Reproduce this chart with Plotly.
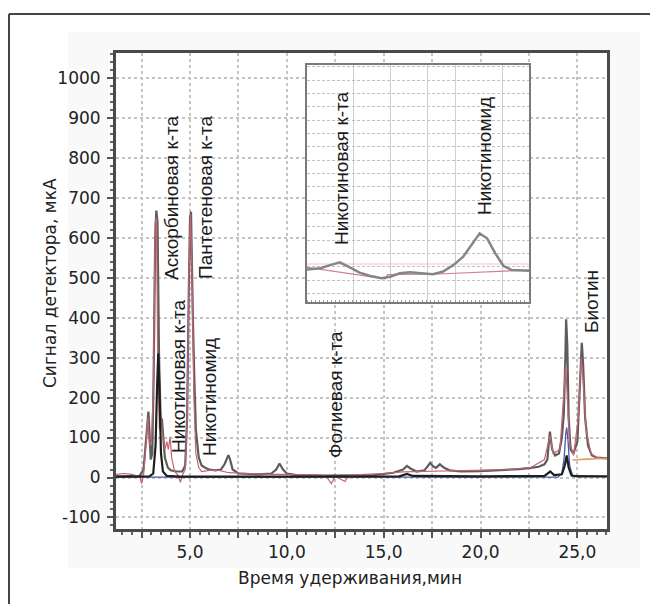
import plotly.graph_objects as go

# ---------------- data ----------------
x_tick_vals = [2.5, 5.0, 7.5, 10.0, 12.5, 15.0, 17.5, 20.0, 22.5, 25.0]
x_tick_text = ["", "5,0", "", "10,0", "", "15,0", "", "20,0", "", "25,0"]
y_tick_vals = [-100, 0, 100, 200, 300, 400, 500, 600, 700, 800, 900, 1000]
y_tick_text = ["-100", "0", "100", "200", "300", "400", "500", "600", "700", "800", "900", "1000"]

# main chromatograms: (time, min ; signal, mkA)
gray_pts = [(1.18, 2), (2.0, 3), (2.4, 4), (2.6, 20), (2.72, 100), (2.8, 150), (2.85, 165), (2.9, 120),
            (2.97, 45), (3.05, 60), (3.12, 250), (3.2, 600), (3.26, 668), (3.32, 640), (3.4, 300),
            (3.48, 150), (3.55, 145), (3.62, 100), (3.7, 50), (3.85, 25), (4.0, 18), (4.3, 15), (4.6, 15),
            (4.75, 30), (4.85, 150), (4.93, 450), (5.0, 650), (5.05, 665), (5.1, 500), (5.15, 390),
            (5.22, 250), (5.3, 120), (5.45, 50), (5.6, 30), (5.8, 24), (6.0, 20), (6.3, 18), (6.6, 20),
            (6.8, 35), (6.92, 52), (6.98, 56), (7.05, 48), (7.2, 20), (7.5, 10), (8.5, 8), (9.2, 10),
            (9.45, 20), (9.62, 35), (9.8, 20), (10.0, 10), (10.5, 6), (12.0, 5), (13.5, 5), (14.5, 6),
            (15.5, 12), (16.0, 20), (16.2, 29), (16.4, 22), (16.7, 15), (17.1, 18), (17.3, 30), (17.4, 37),
            (17.55, 28), (17.7, 24), (17.9, 33), (18.1, 25), (18.4, 18), (19.0, 15), (20.0, 16), (21.0, 18),
            (22.0, 21), (22.6, 24), (23.0, 27), (23.3, 33), (23.45, 45), (23.58, 115), (23.7, 70),
            (23.85, 55), (24.05, 60), (24.2, 100), (24.3, 160), (24.38, 300), (24.42, 396), (24.48, 330),
            (24.55, 150), (24.65, 70), (24.8, 60), (25.0, 90), (25.1, 200), (25.18, 320), (25.23, 337),
            (25.3, 280), (25.4, 150), (25.55, 80), (25.75, 55), (26.0, 50), (26.53, 48)]

pink_pts = [(1.18, 8), (1.6, 10), (2.0, 8), (2.4, 2), (2.5, -15), (2.6, 5), (2.75, 100), (2.82, 150),
            (2.9, 80), (3.0, 90), (3.1, 200), (3.2, 640), (3.27, 650), (3.33, 300), (3.42, 120),
            (3.5, 150), (3.58, 110), (3.7, 70), (3.8, 90), (3.88, 70), (3.97, 102), (4.05, 50), (4.2, 15),
            (4.4, 5), (4.5, -12), (4.6, 5), (4.75, 20), (4.85, 150), (4.95, 520), (5.02, 660), (5.08, 560),
            (5.13, 385), (5.2, 200), (5.3, 60), (5.45, 25), (5.6, 15), (6.0, 18), (6.5, 18), (7.0, 12),
            (8.0, 10), (9.0, 8), (10.0, 8), (11.0, 6), (12.0, 5), (12.3, -15), (12.5, 3), (13.0, -10),
            (13.2, 5), (14.0, 8), (15.0, 10), (16.0, 14), (17.0, 15), (18.5, 16), (20.0, 17), (21.5, 20),
            (22.6, 25), (23.3, 45), (23.58, 105), (23.75, 60), (24.1, 70), (24.3, 200), (24.4, 280),
            (24.48, 200), (24.6, 90), (24.8, 55), (25.05, 150), (25.2, 300), (25.3, 240), (25.45, 120),
            (25.7, 60), (26.0, 50), (26.53, 48)]

blue_pts = [(1.18, 1), (24.0, 1), (24.2, 10), (24.32, 50), (24.4, 110), (24.45, 125), (24.52, 90),
            (24.6, 30), (24.75, 5), (26.53, 2)]

orange_pts = [(24.75, 44), (25.0, 45), (25.5, 46), (26.0, 47), (26.53, 47)]

black_pts = [(1.18, 2), (2.5, 2), (2.9, 3), (3.1, 10), (3.22, 80), (3.3, 230), (3.36, 310), (3.42, 220),
             (3.5, 60), (3.6, 15), (3.8, 4), (4.5, 2), (5.5, 3), (6.0, 2), (10.0, 2), (15.8, 3), (16.2, 9),
             (16.5, 4), (20.0, 3), (23.3, 4), (23.6, 15), (23.8, 6), (24.2, 8), (24.35, 30), (24.45, 55),
             (24.55, 25), (24.7, 5), (25.0, 3), (26.53, 3)]

# inset (zoomed region around nicotinic acid / nicotinamide)
inset_gray_pts = [(3.80, 1.79), (3.84, 1.80), (3.96, 1.88), (4.08, 2.12), (4.20, 2.33), (4.32, 1.95),
                  (4.44, 1.55), (4.57, 1.30), (4.71, 1.13), (4.81, 1.25), (4.93, 1.50), (5.05, 1.58),
                  (5.17, 1.50), (5.33, 1.43), (5.45, 1.62), (5.58, 2.12), (5.70, 2.75), (5.80, 3.62),
                  (5.90, 4.50), (5.99, 4.13), (6.09, 3.00), (6.19, 2.05), (6.29, 1.75), (6.50, 1.70)]
inset_pink_pts = [(3.80, 1.95), (4.20, 1.60), (4.60, 1.20), (4.75, 1.08), (4.78, 1.40), (5.40, 1.45),
                  (6.50, 1.75)]
inset_pink_top_pts = [(3.80, 2.2), (6.50, 2.2)]
inset_grid_x = [4.36, 4.81, 5.27, 5.60, 6.18]

# labels: (text, x px centre, y px centre)
main_labels = [("Аскорбиновая к-та", 171, 198), ("Пантетеновая к-та", 205, 198),
               ("Никотиновая к-та", 178, 376), ("Никотиномид", 209, 397),
               ("Фолиевая к-та", 335, 395), ("Биотин", 591, 302),
               ("Никотиновая к-та", 341, 168), ("Никотиномид", 484, 156)]

# ---------------- layout helpers ----------------
W, H = 650, 604
L, R, T, B = 116, 607, 53, 529


def fx(p):
    return (p - L) / (R - L)


def fy(p):
    return (B - p) / (B - T)


def unzip(pts):
    return [p[0] for p in pts], [p[1] for p in pts]


fig = go.Figure()


def add(pts, color, width, xa="x", ya="y"):
    xs, ys = unzip(pts)
    fig.add_trace(go.Scatter(x=xs, y=ys, mode="lines", line=dict(color=color, width=width),
                             xaxis=xa, yaxis=ya, hoverinfo="skip", showlegend=False))


add(gray_pts, "#5c5c5c", 2.2)
add(pink_pts, "#c26573", 1.2)
add(blue_pts, "#4a5aa8", 1.3)
add(orange_pts, "#d9a266", 1.6)
add(black_pts, "#1e1e1e", 2.2)

add(inset_pink_top_pts, "rgba(220,160,170,0.6)", 1, "x2", "y2")
add(inset_pink_pts, "#d08090", 1.2, "x2", "y2")
add(inset_gray_pts, "#858585", 2.5, "x2", "y2")

tick_font = dict(family="DejaVu Sans", size=17, color="#222")

fig.update_layout(
    width=W, height=H,
    margin=dict(l=L, r=W - R, t=T, b=H - B, pad=0),
    paper_bgcolor="white", plot_bgcolor="white",
    showlegend=False,
    xaxis=dict(range=[1.177, 26.53], tickvals=x_tick_vals, ticktext=x_tick_text,
               ticks="outside", ticklen=6, tickwidth=2, tickcolor="#555",
               minor=dict(dtick=0.5, ticks="outside", ticklen=3, tickwidth=1.5, tickcolor="#666", showgrid=False),
               showgrid=True, gridcolor="#c4c4c4", griddash="dot", gridwidth=1.5,
               showline=True, mirror=True, linecolor="#4a4a4a", linewidth=3,
               zeroline=False, tickfont=tick_font, domain=[0, 1]),
    yaxis=dict(range=[-128.8, 1062], tickvals=y_tick_vals, ticktext=y_tick_text,
               ticks="outside", ticklen=6, tickwidth=2, tickcolor="#555",
               minor=dict(dtick=20, ticks="outside", ticklen=3, tickwidth=1.5, tickcolor="#666", showgrid=False),
               showgrid=True, gridcolor="#c4c4c4", griddash="dot", gridwidth=1.5,
               showline=True, mirror=True, linecolor="#4a4a4a", linewidth=3,
               zeroline=False, tickfont=tick_font, domain=[0, 1], ticklabelstandoff=3),
    xaxis2=dict(domain=[fx(307), fx(529)], anchor="y2", range=[3.8, 6.5],
                tickvals=inset_grid_x, showticklabels=False, ticks="",
                minor=dict(dtick=0.05, ticks="inside", ticklen=2, tickcolor="#999", showgrid=False),
                showgrid=True, gridcolor="#cfcfcf", gridwidth=1,
                showline=True, mirror=True, linecolor="#7a7a7a", linewidth=2, zeroline=False),
    yaxis2=dict(domain=[fy(302), fy(65)], anchor="x2", range=[-0.65, 17.13], dtick=1,
                showticklabels=False, ticks="",
                showgrid=True, gridcolor="#c2c2c2", griddash="3px,2px", gridwidth=1,
                showline=True, mirror=True, linecolor="#7a7a7a", linewidth=2, zeroline=False),
)

shapes = [
    # faint grey background of the original figure
    dict(type="rect", xref="paper", yref="paper", x0=fx(68), x1=fx(640), y0=fy(568), y1=fy(32),
         fillcolor="#f9f9f9", line=dict(width=0), layer="below"),
    dict(type="rect", xref="paper", yref="paper", x0=0, x1=1, y0=0, y1=1,
         fillcolor="white", line=dict(width=0), layer="below"),
    # outer frame
    dict(type="line", xref="paper", yref="paper", x0=fx(9), x1=fx(660), y0=fy(14), y1=fy(14),
         line=dict(color="#444", width=2)),
    dict(type="line", xref="paper", yref="paper", x0=fx(9), x1=fx(9), y0=fy(14), y1=fy(620),
         line=dict(color="#444", width=2)),
]
fig.update_layout(shapes=shapes)

ann = []
for text, cx, cy in main_labels:
    ann.append(dict(text=text, x=fx(cx), y=fy(cy), xref="paper", yref="paper", showarrow=False,
                    textangle=-90, xanchor="center", yanchor="middle",
                    font=dict(family="Liberation Sans", size=19, color="#1a1a1a")))
ann.append(dict(text="Время удерживания,мин", x=fx(350), y=fy(578), xref="paper", yref="paper",
                showarrow=False, xanchor="center", yanchor="middle",
                font=dict(family="DejaVu Sans", size=17, color="#222")))
ann.append(dict(text="Сигнал детектора, мкА", x=fx(50), y=fy(283), xref="paper", yref="paper",
                showarrow=False, textangle=-90, xanchor="center", yanchor="middle",
                font=dict(family="DejaVu Sans", size=17, color="#222")))
fig.update_layout(annotations=ann)

fig.write_html("out.html")
